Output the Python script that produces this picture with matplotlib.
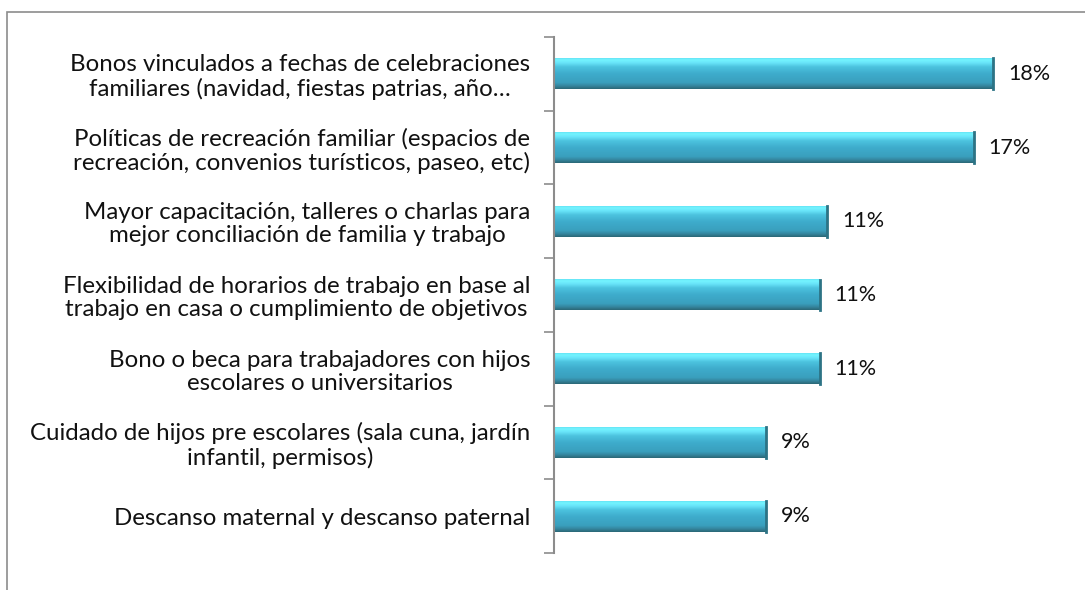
import numpy as np
import matplotlib
matplotlib.use("Agg")
import matplotlib.pyplot as plt
from matplotlib.colors import LinearSegmentedColormap
from matplotlib.patches import Rectangle

plt.rcParams['font.family'] = ['Lato', 'DejaVu Sans']

categories = [
    "Bonos vinculados a fechas de celebraciones\nfamiliares (navidad, fiestas patrias, año…",
    "Políticas de recreación familiar (espacios de\nrecreación, convenios turísticos, paseo, etc)",
    "Mayor capacitación, talleres o charlas para\nmejor conciliación de familia y trabajo",
    "Flexibilidad de horarios de trabajo en base al\ntrabajo en casa o cumplimiento de objetivos",
    "Bono o beca para trabajadores con hijos\nescolares o universitarios",
    "Cuidado de hijos pre escolares (sala cuna, jardín\ninfantil, permisos)",
    "Descanso maternal y descanso paternal",
]
values = [0.180, 0.172, 0.112, 0.109, 0.109, 0.087, 0.087]
labels = ["18%", "17%", "11%", "11%", "11%", "9%", "9%"]

W, H = 1085, 590
fig = plt.figure(figsize=(W / 100, H / 100), dpi=100)

# outer chart frame (cut at right and bottom like the original)
fig.patches.append(Rectangle((7 / W, -0.1), 1.2, 1 - 12 / H + 0.1, transform=fig.transFigure,
                             fill=False, edgecolor="#8c8c8c", linewidth=1.2))

ax = fig.add_axes([554 / W, 1 - 553 / H, (1042 - 554) / W, (553 - 37) / H])
ax.set_xlim(0, 0.2)
ax.set_ylim(len(values) - 0.5, -0.5)

bevel = LinearSegmentedColormap.from_list("bevel", [
    (0.00, "#66e4f6"), (0.05, "#74f4ff"), (0.14, "#6ae6fa"), (0.28, "#4cc3df"),
    (0.50, "#3eaccc"), (0.80, "#3a9fbd"), (0.90, "#35879f"), (1.00, "#2b6878")])
grad = np.linspace(0, 1, 64).reshape(-1, 1)
h = 0.42
for i, v in enumerate(values):
    ax.imshow(grad, cmap=bevel, aspect="auto", extent=(0, v, i + h / 2, i - h / 2),
              interpolation="bilinear", zorder=2)
    ax.plot([v, v], [i - h / 2, i + h / 2], color="#2d7385", linewidth=2, zorder=3)
    ax.text(v + 0.006, i, labels[i], va="center", ha="left", fontsize=15.5, color="#111111")

ax.set_yticks(range(len(values)))
ax.set_yticklabels(categories, fontsize=17.3, color="#111111", multialignment="center",
                   linespacing=1.12)
ax.set_yticks(np.arange(-0.5, len(values), 1), minor=True)
ax.tick_params(axis="y", which="major", length=0, pad=17)
ax.tick_params(axis="y", which="minor", length=7, color="#8c8c8c", width=1.2)
ax.set_xticks([])
for s in ["top", "right", "bottom"]:
    ax.spines[s].set_visible(False)
ax.spines["left"].set_color("#8c8c8c")
ax.spines["left"].set_linewidth(1.5)

fig.savefig("out.png", dpi=100)
